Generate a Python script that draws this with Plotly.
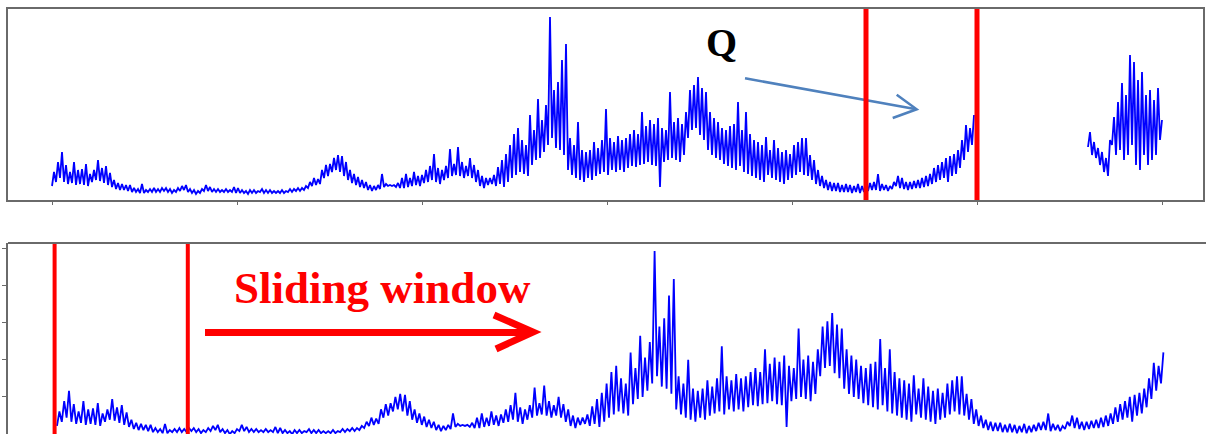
import plotly.graph_objects as go

W, H = 1206, 434

sample_step = 4
seg_a_start = 0
seg_a_low = [
    14, 18, 22, 18, 16, 17, 15, 16, 15, 14, 18, 20, 19, 17, 15, 13, 11, 10, 10, 9,
    8, 8, 7, 7, 8, 8, 8, 8, 9, 8, 7, 8, 9, 10, 8, 7, 6, 7, 9, 9,
    8, 8, 8, 8, 8, 8, 7, 7, 7, 6, 7, 7, 8, 7, 7, 7, 7,
    7, 7, 8, 8, 9, 9, 10, 12, 14, 15, 16, 22, 24, 28, 30, 28, 24, 20, 17, 15,
    13, 12, 10, 9, 10, 11, 13, 14, 14, 13, 12, 12, 13, 14, 15, 14, 17, 18, 20, 18,
    16, 20, 22, 24, 25, 24, 22, 24, 22, 18, 14, 12, 15, 16, 14, 16, 13, 18, 22, 25,
    28, 26, 24, 35, 40, 42, 48, 55, 62, 52, 50, 45, 30, 25, 22, 20, 18, 22, 20, 24,
    26, 28, 25, 30, 28, 30, 28, 32, 34, 33, 35, 36, 38, 35, 34, 13, 38, 40, 42, 40,
    38, 45, 62, 70, 72, 65, 60, 50, 45, 42, 40, 36, 34, 32, 30, 34, 28, 26, 24, 22,
    20, 18, 25, 22, 20, 18, 16, 20, 22, 25, 28, 25, 24, 20, 16, 14, 12, 10, 9, 9,
    8, 8, 8, 7, 8, 7, 8, 9, 10, 10, 9, 10, 9, 11, 14, 12, 11, 10, 11, 12,
    12, 13, 14, 16, 18, 20, 22, 18, 24, 26, 32, 40, 48, 55,
]
seg_a_high = [
    28, 38, 48, 35, 28, 38, 30, 31, 36, 26, 30, 40, 32, 34, 27, 20, 17, 16, 15, 15,
    12, 11, 16, 10, 11, 12, 11, 12, 12, 11, 10, 12, 14, 15, 11, 10, 9, 11, 15, 13,
    11, 11, 10, 11, 10, 13, 12, 10, 9, 10, 10, 9, 11, 10, 10, 9, 9,
    10, 9, 11, 11, 12, 12, 14, 18, 22, 21, 30, 35, 36, 42, 45, 44, 38, 30, 26, 23,
    20, 18, 15, 14, 15, 26, 16, 15, 15, 17, 22, 26, 22, 28, 24, 25, 30, 34, 46, 32,
    30, 34, 51, 36, 53, 38, 34, 42, 35, 30, 24, 22, 22, 25, 33, 40, 46, 55, 66, 72,
    60, 55, 85, 70, 101, 80, 95, 183, 110, 118, 140, 156, 62, 55, 78, 50, 48, 50, 58, 52,
    60, 91, 62, 58, 64, 60, 62, 66, 70, 66, 88, 74, 80, 76, 82, 72, 70, 108, 78, 82,
    76, 88, 110, 115, 123, 112, 108, 88, 82, 78, 72, 70, 74, 76, 98, 70, 88, 66, 60, 58,
    55, 63, 50, 60, 52, 48, 50, 46, 55, 58, 62, 62, 45, 40, 30, 24, 20, 18, 17, 17,
    15, 16, 15, 14, 16, 14, 15, 17, 18, 26, 16, 15, 14, 18, 24, 22, 18, 18, 19, 20,
    22, 24, 26, 32, 35, 38, 42, 44, 46, 50, 60, 75, 72, 85,
]
seg_b_start = 1036
seg_b_low = [53, 45, 42, 35, 28, 24, 55, 45, 50, 40, 45, 55, 35, 30, 45, 35, 40, 45, 60]
seg_b_high = [68, 58, 52, 48, 42, 60, 83, 98, 117, 105, 145, 138, 120, 128, 105, 110, 100, 112, 80]

top_ticks = [0, 185, 370, 555, 740, 925, 1110]
bottom_ticks = [42.9, 78.6, 114.3, 150.0, 185.7]

window_width = 111
window_top_start = 814
window_bottom_start = -2

q_label = "Q"
slide_label = "Sliding window"

BLUE = "#0000ff"
RED = "#ff0000"
FRAME = "#6a6a6a"


def zigzag(start, lows, highs, step):
    xs, ys = [], []
    for i, (lo, hi) in enumerate(zip(lows, highs)):
        t = start + i * step
        xs += [t, t + step / 2]
        ys += [lo, hi]
    return xs, ys


xa, ya = zigzag(seg_a_start, seg_a_low, seg_a_high, sample_step)
xb, yb = zigzag(seg_b_start, seg_b_low, seg_b_high, sample_step)

fig = go.Figure()
for xx, yy in ((xa, ya), (xb, yb)):
    fig.add_trace(go.Scatter(x=xx, y=yy, mode="lines", line=dict(color=BLUE, width=1.8),
                             xaxis="x", yaxis="y", hoverinfo="skip"))
    fig.add_trace(go.Scatter(x=xx, y=yy, mode="lines", line=dict(color=BLUE, width=1.8),
                             xaxis="x2", yaxis="y2", hoverinfo="skip"))


def px(x):
    return x / W


def py(y):
    return 1 - y / H


shapes = []
# Q arrow (steel blue, open head)
QB = "#4f81bd"
shapes.append(dict(type="line", xref="paper", yref="paper", x0=px(745), y0=py(78.3),
                   x1=px(915), y1=py(109), line=dict(color=QB, width=2.5)))
shapes.append(dict(type="path", xref="paper", yref="paper",
                   path=f"M {px(896.7)},{py(94.7)} L {px(916.7)},{py(109.3)} L {px(892.7)},{py(118)}",
                   line=dict(color=QB, width=2.5)))
# Sliding window arrow (red)
shapes.append(dict(type="line", xref="paper", yref="paper", x0=px(205), y0=py(332.5),
                   x1=px(530), y1=py(332.5), line=dict(color=RED, width=7)))
shapes.append(dict(type="path", xref="paper", yref="paper",
                   path=f"M {px(494)},{py(315)} L {px(533)},{py(332)} L {px(496)},{py(349)}",
                   line=dict(color=RED, width=7)))
# window borders
for x0 in (window_top_start, window_top_start + window_width):
    shapes.append(dict(type="line", xref="x", yref="y domain", x0=x0, x1=x0, y0=0, y1=1,
                       line=dict(color=RED, width=5)))
for x0 in (window_bottom_start, window_bottom_start + window_width):
    shapes.append(dict(type="line", xref="x2", yref="y2 domain", x0=x0, x1=x0, y0=0, y1=1,
                       line=dict(color=RED, width=4)))
# top frame line of the lower panel
shapes.append(dict(type="line", xref="x2 domain", yref="y2 domain", x0=0, x1=1, y0=1, y1=1,
                   line=dict(color=FRAME, width=2)))

annotations = [
    dict(text=f"<b>{q_label}</b>", xref="paper", yref="paper", x=px(721), y=py(43),
         xanchor="center", yanchor="middle", showarrow=False,
         font=dict(family="Liberation Serif", size=40, color="black")),
    dict(text=f"<b>{slide_label}</b>", xref="paper", yref="paper", x=px(382), y=py(288),
         xanchor="center", yanchor="middle", showarrow=False,
         font=dict(family="Liberation Serif", size=45, color=RED)),
]

fig.update_layout(
    width=W, height=H, margin=dict(l=0, r=0, t=0, b=0),
    paper_bgcolor="white", plot_bgcolor="white", showlegend=False,
    xaxis=dict(domain=[8 / W, 1203 / W], range=[-44, 1151], anchor="y",
               showgrid=False, zeroline=False, showline=True, mirror=True,
               linecolor=FRAME, linewidth=2, ticks="outside", ticklen=3,
               tickcolor=FRAME, tickvals=top_ticks, showticklabels=False),
    yaxis=dict(domain=[1 - 200 / H, 1 - 9 / H], range=[0, 191], anchor="x",
               showgrid=False, zeroline=False, showline=True, mirror=True,
               linecolor=FRAME, linewidth=2, showticklabels=False, ticks=""),
    xaxis2=dict(domain=[8 / W, 1], range=[-40.83, 957.5], anchor="y2",
                showgrid=False, zeroline=False, showline=False, showticklabels=False, ticks=""),
    yaxis2=dict(domain=[0, 1 - 243 / H], range=[6.2, 190.7], anchor="x2",
                showgrid=False, zeroline=False, showline=True, linecolor=FRAME, linewidth=2,
                ticks="outside", ticklen=4, tickcolor=FRAME, tickvals=bottom_ticks,
                showticklabels=False),
    shapes=shapes,
    annotations=annotations,
)

fig.write_html("out.html")
